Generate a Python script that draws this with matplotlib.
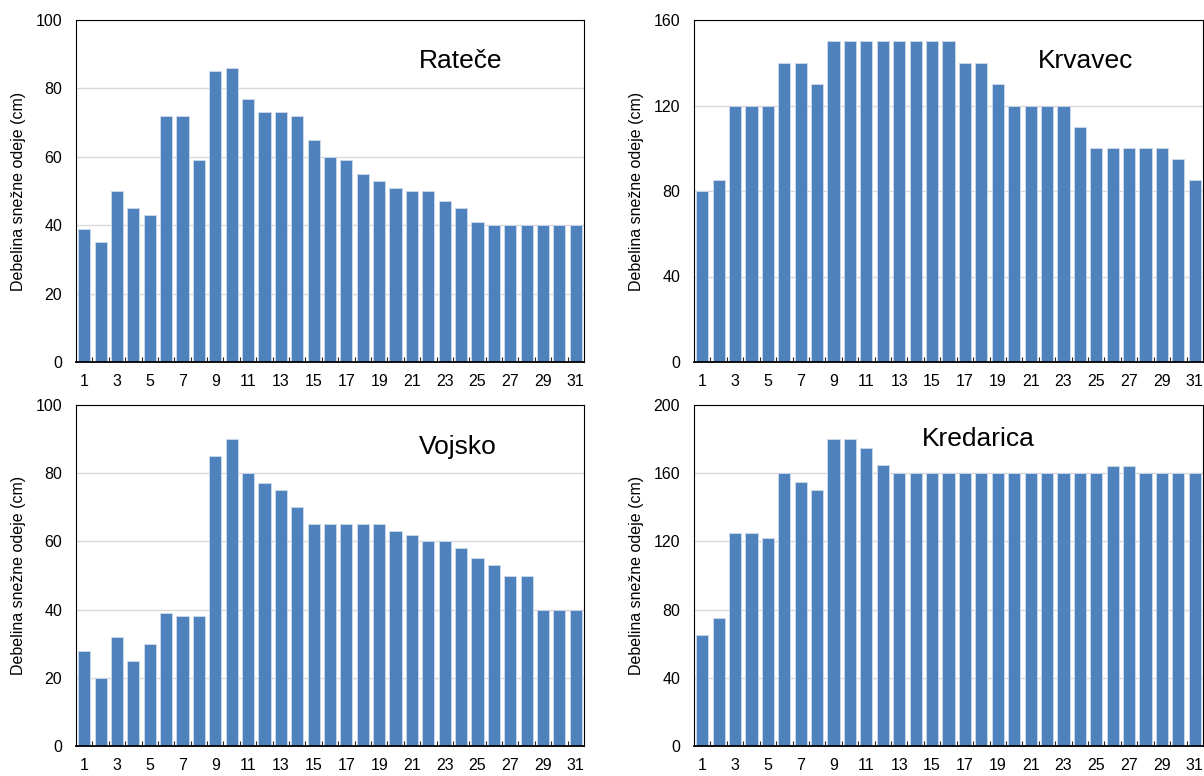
import matplotlib.pyplot as plt
import numpy as np

plt.rcParams['font.family'] = ['Liberation Sans', 'DejaVu Sans']

days = np.arange(1, 32)

ratece = [39, 35, 50, 45, 43, 72, 72, 59, 85, 86, 77, 73, 73, 72, 65, 60,
          59, 55, 53, 51, 50, 50, 47, 45, 41, 40, 40, 40, 40, 40, 40]
krvavec = [80, 85, 120, 120, 120, 140, 140, 130, 150, 150, 150, 150, 150, 150,
           150, 150, 140, 140, 130, 120, 120, 120, 120, 110, 100, 100, 100,
           100, 100, 95, 85]
vojsko = [28, 20, 32, 25, 30, 39, 38, 38, 85, 90, 80, 77, 75, 70, 65, 65,
          65, 65, 65, 63, 62, 60, 60, 58, 55, 53, 50, 50, 40, 40, 40]
kredarica = [65, 75, 125, 125, 122, 160, 155, 150, 180, 180, 175, 165, 160,
             160, 160, 160, 160, 160, 160, 160, 160, 160, 160, 160, 160, 164,
             164, 160, 160, 160, 160]

stations = ['Rateče', 'Krvavec', 'Vojsko', 'Kredarica']
series = [ratece, krvavec, vojsko, kredarica]
y_max = [100, 160, 100, 200]
y_step = [20, 40, 20, 40]
# title centre in axes coordinates
title_pos = [(0.757, 0.88), (0.77, 0.88), (0.752, 0.878), (0.558, 0.90)]

W, H = 1204, 776
boxes = [(76, 20, 584, 362), (694, 20, 1203, 362),
         (76, 405, 584, 746), (694, 405, 1203, 746)]

fig = plt.figure(figsize=(W / 100, H / 100), dpi=100)
for i in range(4):
    x0, y0, x1, y1 = boxes[i]
    ax = fig.add_axes([x0 / W, 1 - y1 / H, (x1 - x0) / W, (y1 - y0) / H])
    ax.bar(days, series[i], width=0.74, color='#4f81bd',
           edgecolor='#c9d7ea', linewidth=0.7, zorder=2)
    ax.set_xlim(0.5, 31.5)
    ax.set_ylim(0, y_max[i])
    ax.set_yticks(np.arange(0, y_max[i] + 1, y_step[i]))
    ax.set_xticks(np.arange(1, 32, 2))
    ax.set_xticks(np.arange(1.5, 31, 1), minor=True)
    ax.tick_params(axis='x', which='major', length=0, pad=9, labelsize=11.5)
    ax.tick_params(axis='x', which='minor', length=3.5, width=0.8,
                   direction='in', color='#222222')
    ax.tick_params(axis='y', length=0, pad=10, labelsize=11.5)
    ax.grid(axis='y', color='#d9d9d9', linewidth=1, zorder=0)
    ax.set_axisbelow(True)
    for s in ax.spines.values():
        s.set_linewidth(0.8)
    ax.spines['bottom'].set_linewidth(1.3)
    ax.set_ylabel('Debelina snežne odeje (cm)', fontsize=11.5, labelpad=7)
    ax.text(title_pos[i][0], title_pos[i][1], stations[i], transform=ax.transAxes,
            ha='center', va='center', fontsize=19)

fig.savefig('out.png', dpi=100)
